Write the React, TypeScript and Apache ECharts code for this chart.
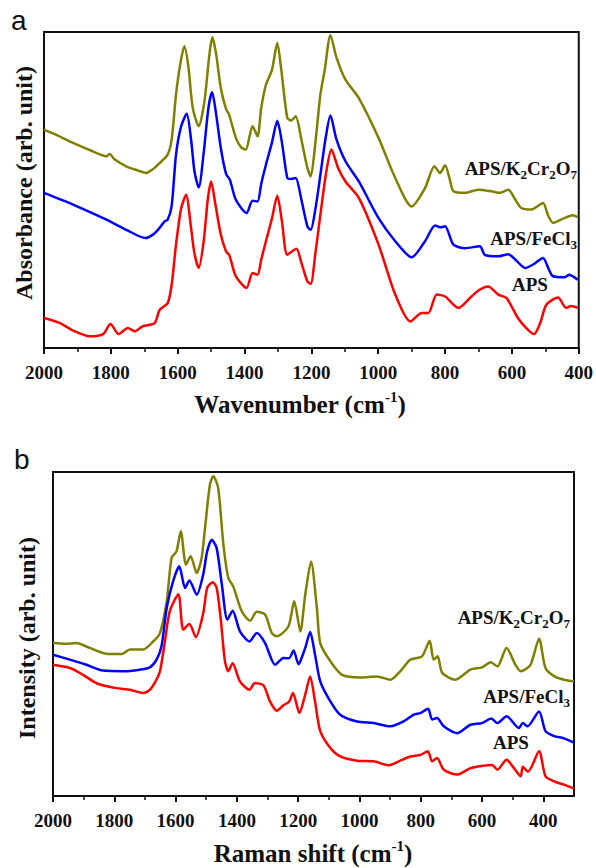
import React, { useEffect, useRef } from 'react';
import * as echarts from 'echarts';

// ---------- Panel a: FTIR (wavenumber cm-1, absorbance arb. unit) ----------
const ftirTicks = [400, 600, 800, 1000, 1200, 1400, 1600, 1800, 2000];
const ftirMinorTicks = [500, 700, 900, 1100, 1300, 1500, 1700, 1900];

const ftirK2Cr2O7 = [
  [2000, 69.1], [1960, 67.3], [1913, 64.9], [1860, 62.5], [1813, 60.7], [1803, 61.4], [1790, 59.8],
  [1754, 57.5], [1720, 56.2], [1694, 55.4], [1675, 56.5], [1654, 58.5], [1630, 61.2], [1618, 66],
  [1605, 80.2], [1592, 90], [1580, 95.5], [1568, 89], [1555, 76], [1537, 70.2], [1520, 78],
  [1505, 93], [1496, 98.3], [1485, 93], [1471, 82.3], [1455, 75.5], [1446, 73.8], [1426, 66.5],
  [1410, 63.5], [1396, 62.8], [1385, 67], [1376, 70.2], [1361, 67.0], [1350, 76], [1336, 83.3],
  [1318, 88], [1302, 96.5], [1290, 88], [1272, 72.8], [1260, 72], [1247, 73.3], [1230, 66],
  [1212, 57.0], [1202, 54.3], [1190, 63], [1173, 80.2], [1160, 88], [1143, 99.0], [1125, 92],
  [1098, 84.9], [1058, 79.1], [999, 66.5], [949, 53.8], [900, 44.8], [860, 50.6], [832, 57.5],
  [815, 55.4], [800, 57.8], [785, 53], [775, 49.6], [740, 49.1], [701, 50.1], [661, 49.6],
  [636, 49.1], [611, 50.1], [590, 47], [572, 44.3], [542, 43.8], [507, 45.9], [492, 42],
  [477, 39.6], [443, 41.1], [418, 42.0], [403, 41.4],
];

const ftirFeCl3 = [
  [2000, 49.1], [1913, 45.4], [1813, 40.6], [1754, 37.4], [1696, 34.8], [1675, 35.8], [1659, 37.4],
  [1639, 40.1], [1630, 40.6], [1618, 45], [1605, 61.2], [1590, 70], [1573, 74.1], [1560, 66],
  [1550, 56], [1537, 50.8], [1522, 62], [1508, 76], [1497, 80.9], [1485, 74], [1471, 63.3],
  [1455, 55], [1444, 53.3], [1426, 46.9], [1394, 42.7], [1376, 46.6], [1361, 46.4], [1350, 52],
  [1336, 58.0], [1318, 65], [1302, 71.9], [1288, 65], [1272, 53.8], [1260, 53.5], [1247, 53.8],
  [1230, 47], [1212, 38.5], [1202, 37.4], [1188, 44], [1173, 54.8], [1158, 66], [1143, 73.6],
  [1125, 66], [1098, 59.1], [1058, 52.7], [999, 41.1], [949, 33.8], [900, 28.7], [860, 33.8],
  [830, 38.8], [815, 38.2], [800, 38.5], [775, 32.7], [740, 31.6], [696, 32.2], [681, 29.5],
  [641, 29.0], [611, 29.7], [590, 28], [560, 25.3], [535, 26.5], [507, 28.5], [490, 25],
  [477, 22.7], [443, 22.4], [428, 23.2], [415, 22.5], [403, 21.6],
];

const ftirAPS = [
  [2000, 9.5], [1952, 7.9], [1913, 5.5], [1863, 3.7], [1823, 4.4], [1801, 7.6], [1777, 4.4],
  [1749, 6.3], [1729, 5.3], [1704, 6.9], [1669, 7.9], [1654, 12.1], [1630, 14.2], [1618, 20],
  [1605, 32.7], [1590, 44], [1575, 48.5], [1560, 38], [1550, 30], [1537, 25.3], [1522, 34],
  [1510, 47], [1500, 52.7], [1488, 46], [1471, 35.9], [1455, 30.5], [1446, 29.5], [1426, 22.7],
  [1394, 19.0], [1376, 23.7], [1361, 23.2], [1350, 28], [1336, 33.8], [1318, 41], [1302, 48.2],
  [1288, 40], [1272, 29.5], [1245, 31.4], [1230, 27], [1212, 21.1], [1202, 20.3], [1188, 30],
  [1173, 42.2], [1155, 56], [1140, 62.8], [1120, 57], [1098, 52.7], [1058, 47.5], [999, 32.7],
  [949, 16.9], [904, 8.4], [870, 11.1], [850, 11.1], [825, 16.9], [800, 16.3], [760, 12.7],
  [721, 16.3], [696, 18.5], [671, 19.5], [641, 16.9], [616, 15.8], [582, 9.5], [557, 6.3],
  [534, 4.4], [515, 8], [497, 13.7], [462, 16.0], [438, 12.7], [423, 13.3], [403, 12.7],
];

// ---------- Panel b: Raman (Raman shift cm-1, intensity arb. unit) ----------
const ramanTicks = [400, 600, 800, 1000, 1200, 1400, 1600, 1800, 2000];
const ramanMinorTicks = [500, 700, 900, 1100, 1300, 1500, 1700, 1900];

const ramanK2Cr2O7 = [
  [2000, 47.2], [1960, 47.0], [1924, 47.2], [1880, 45.7], [1820, 43.8], [1776, 43.8], [1749, 45.2],
  [1706, 45.2], [1673, 47.7], [1651, 50.3], [1629, 60.1], [1613, 73.5], [1597, 75.5], [1583, 81.7],
  [1566, 71.4], [1551, 74.0], [1531, 68.8], [1515, 73.5], [1504, 82.7], [1488, 96.1], [1477, 98.7],
  [1461, 95.1], [1444, 77.6], [1428, 67.3], [1412, 64.7], [1384, 57.0], [1357, 54.1], [1335, 56.9],
  [1308, 56.0], [1286, 50.3], [1270, 49.3], [1232, 52.3], [1213, 60.1], [1193, 50.8], [1177, 62.1],
  [1158, 72.4], [1139, 58.0], [1128, 47.2], [1095, 41.6], [1057, 37.4], [997, 36.6], [943, 36.9],
  [899, 35.9], [867, 38.5], [834, 42.1], [796, 43.1], [771, 47.9], [758, 42.1], [745, 43.1],
  [730, 38.0], [687, 35.9], [638, 39.0], [600, 39.7], [572, 41.3], [550, 40.0], [520, 45.7],
  [491, 40.5], [474, 38.5], [442, 40.5], [414, 48.5], [393, 39.5], [365, 37.0], [333, 35.9],
  [300, 35.4],
];

const ramanFeCl3 = [
  [2000, 43.6], [1945, 42.1], [1891, 40.5], [1837, 38.7], [1771, 38.5], [1717, 39.0], [1684, 39.7],
  [1662, 42.1], [1646, 46.2], [1629, 58.0], [1608, 66.3], [1588, 70.9], [1569, 64.2], [1555, 66.5],
  [1531, 62.1], [1510, 68.3], [1497, 75.5], [1482, 79.1], [1466, 76.5], [1449, 65.2], [1431, 54.4],
  [1414, 57.2], [1390, 50.8], [1359, 47.7], [1335, 50.3], [1308, 47.2], [1275, 40.5], [1248, 42.6],
  [1230, 42.5], [1215, 44.9], [1199, 40.7], [1193, 41.6], [1177, 45.7], [1161, 50.6], [1145, 43.6],
  [1128, 35.4], [1095, 29.2], [1063, 25.1], [1008, 23.0], [954, 22.5], [899, 21.5], [856, 23.0],
  [823, 25.1], [801, 25.6], [776, 26.9], [763, 23.6], [747, 24.1], [725, 21.5], [681, 19.4],
  [638, 22.0], [600, 22.5], [570, 23.9], [550, 22.5], [520, 24.6], [480, 21.0], [467, 22.5],
  [452, 21.5], [414, 26.1], [393, 20.0], [365, 18.5], [333, 17.8], [300, 16.5],
];

const ramanAPS = [
  [2000, 40.5], [1945, 39.5], [1902, 37.4], [1869, 35.4], [1847, 34.4], [1793, 33.3], [1749, 32.8],
  [1706, 31.8], [1684, 32.8], [1668, 34.9], [1651, 38.5], [1635, 47.7], [1619, 57.0], [1591, 62.3],
  [1575, 51.3], [1555, 53.1], [1534, 49.0], [1510, 56.3], [1497, 64.2], [1479, 66.0], [1466, 64.2],
  [1453, 54.9], [1439, 41.6], [1428, 38.5], [1414, 41.0], [1390, 35.4], [1359, 32.8], [1341, 34.9],
  [1313, 34.1], [1292, 29.2], [1270, 26.3], [1248, 28.0], [1229, 29.2], [1217, 31.8], [1196, 25.6],
  [1177, 31.3], [1161, 36.9], [1145, 29.2], [1128, 20.0], [1095, 14.8], [1063, 12.2], [1008, 10.9],
  [954, 10.7], [905, 9.5], [872, 10.7], [834, 12.2], [801, 12.7], [777, 13.8], [763, 10.7],
  [747, 11.7], [725, 8.1], [681, 6.6], [638, 8.6], [600, 9.3], [567, 9.6], [550, 8.1], [520, 11.2],
  [496, 8.6], [474, 6.1], [467, 9.0], [450, 7.5], [414, 13.8], [393, 6.1], [365, 4.5], [333, 3.5],
  [300, 2.3],
];

const OLIVE = '#808000';
const BLUE = '#0000ff';
const RED = '#ff0000';
const SERIF = '"Liberation Serif", "Times New Roman", serif';
const SANS = '"Liberation Sans", Arial, sans-serif';
const INK = '#111111';

function mainAxis(gridIndex: number, min: number, max: number, ticks: number[]) {
  return {
    type: 'value',
    gridIndex,
    inverse: true,
    min,
    max,
    interval: 100,
    axisLine: { show: true, onZero: false, lineStyle: { color: INK, width: 2 } },
    axisTick: { show: true, inside: false, length: 6, customValues: ticks, lineStyle: { color: INK, width: 2 } },
    axisLabel: {
      show: true,
      customValues: ticks,
      margin: 15,
      color: INK,
      fontFamily: SERIF,
      fontWeight: 'bold',
      fontSize: 19,
      formatter: (v: number) => String(v),
    },
    splitLine: { show: false },
  };
}

function minorAxis(gridIndex: number, min: number, max: number, ticks: number[]) {
  return {
    type: 'value',
    gridIndex,
    inverse: true,
    min,
    max,
    interval: 100,
    position: 'bottom',
    axisLine: { show: false, onZero: false },
    axisTick: { show: true, inside: false, length: 4, customValues: ticks, lineStyle: { color: INK, width: 1.5 } },
    axisLabel: { show: false },
    splitLine: { show: false },
  };
}

function yAxis(gridIndex: number) {
  return {
    type: 'value',
    gridIndex,
    min: 0,
    max: 100,
    axisLine: { show: false },
    axisTick: { show: false },
    axisLabel: { show: false },
    splitLine: { show: false },
  };
}

function line(name: string, data: number[][], color: string, xi: number, yi: number) {
  return {
    name,
    type: 'line',
    data,
    xAxisIndex: xi,
    yAxisIndex: yi,
    showSymbol: false,
    smooth: 0.25,
    lineStyle: { color, width: 2.5 },
    itemStyle: { color },
    z: 3,
  };
}

const subRich = {
  m: { fontFamily: SERIF, fontWeight: 'bold', fontSize: 19, lineHeight: 20, verticalAlign: 'top', fill: INK },
  s: { fontFamily: SERIF, fontWeight: 'bold', fontSize: 13, lineHeight: 13, padding: [9, 0, 0, 0], verticalAlign: 'top', fill: INK },
};
const supRich = {
  p: { fontFamily: SERIF, fontWeight: 'bold', fontSize: 15, lineHeight: 15, verticalAlign: 'top', fill: INK },
};

function label(text: string, x: number, y: number, align: string) {
  return {
    type: 'text',
    x,
    y,
    z: 10,
    style: {
      text,
      font: `bold 19px ${SERIF}`,
      fill: INK,
      align,
      verticalAlign: 'middle',
      rich: subRich,
    },
  };
}

function title(text: string, x: number, y: number, rotation = 0, size = 25) {
  return {
    type: 'text',
    x,
    y,
    rotation,
    z: 10,
    style: {
      text,
      font: `bold ${size}px ${SERIF}`,
      lineHeight: 30,
      fill: INK,
      align: 'center',
      verticalAlign: 'middle',
      rich: supRich,
    },
  };
}

export default function App() {
  const ref = useRef<HTMLDivElement>(null);

  useEffect(() => {
    if (!ref.current) return;
    const chart = echarts.init(ref.current, null, { renderer: 'svg' });
    const option: any = {
      animation: false,
      backgroundColor: '#ffffff',
      grid: [
        { left: 44, top: 32, width: 537, height: 316, show: true, borderColor: INK, borderWidth: 2, containLabel: false },
        { left: 53, top: 472, width: 521, height: 324, show: true, borderColor: INK, borderWidth: 2, containLabel: false },
      ],
      xAxis: [
        mainAxis(0, 400, 2000, ftirTicks),
        minorAxis(0, 400, 2000, ftirMinorTicks),
        mainAxis(1, 300, 2000, ramanTicks),
        minorAxis(1, 300, 2000, ramanMinorTicks),
      ],
      yAxis: [yAxis(0), yAxis(1)],
      series: [
        line('APS/K2Cr2O7 FTIR', ftirK2Cr2O7, OLIVE, 0, 0),
        line('APS/FeCl3 FTIR', ftirFeCl3, BLUE, 0, 0),
        line('APS FTIR', ftirAPS, RED, 0, 0),
        line('APS/K2Cr2O7 Raman', ramanK2Cr2O7, OLIVE, 2, 1),
        line('APS/FeCl3 Raman', ramanFeCl3, BLUE, 2, 1),
        line('APS Raman', ramanAPS, RED, 2, 1),
      ],
      graphic: [
        { type: 'text', x: 11, y: 20, z: 10, style: { text: 'a', font: `28px ${SANS}`, fill: INK, align: 'left', verticalAlign: 'middle' } },
        { type: 'text', x: 14, y: 459, z: 10, style: { text: 'b', font: `28px ${SANS}`, fill: INK, align: 'left', verticalAlign: 'middle' } },
        label('{m|APS/K}{s|2}{m|Cr}{s|2}{m|O}{s|7}', 577, 169, 'right'),
        label('{m|APS/FeCl}{s|3}', 577, 239, 'right'),
        label('{m|APS}', 512, 285, 'left'),
        label('{m|APS/K}{s|2}{m|Cr}{s|2}{m|O}{s|7}', 570, 618, 'right'),
        label('{m|APS/FeCl}{s|3}', 570, 697, 'right'),
        label('{m|APS}', 493, 743, 'left'),
        title('Wavenumber (cm{p|-1})', 300, 404),
        title('Raman shift (cm{p|-1})', 313, 853),
        title('Absorbance (arb. unit)', 24, 183, Math.PI / 2, 24),
        title('Intensity (arb. unit)', 27, 638, Math.PI / 2, 24),
      ],
    };
    chart.setOption(option);
    return () => chart.dispose();
  }, []);

  return (
    <div
      ref={ref}
      style={{ position: 'absolute', left: 0, top: 0, width: 596, height: 868, background: '#fff' }}
    />
  );
}
